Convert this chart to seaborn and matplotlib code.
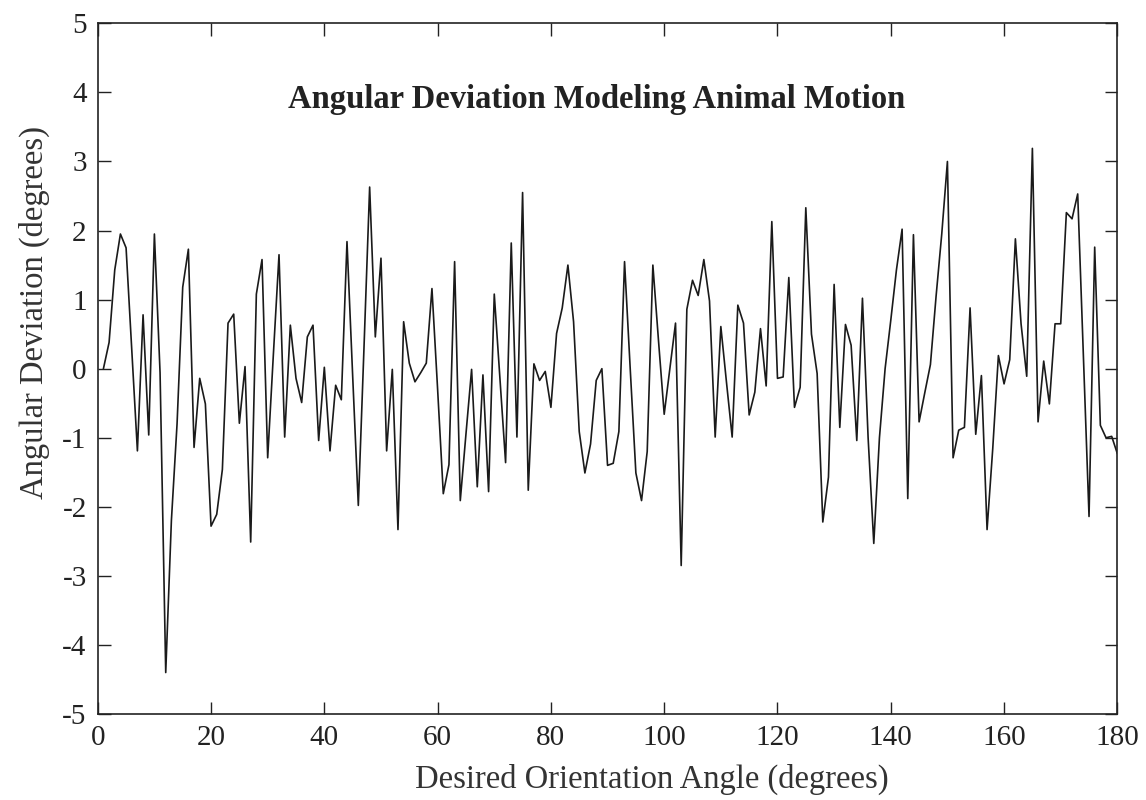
import numpy as np
import pandas as pd
import matplotlib
matplotlib.use("Agg")
import matplotlib.pyplot as plt
import seaborn as sns

# Desired orientation angle (degrees)
angle = list(range(1, 181))

# Angular deviation (degrees)
deviation = [
    0.00, 0.38, 1.43, 1.95, 1.75, 0.28, -1.19, 0.78, -0.96, 1.95,
    -0.06, -4.40, -2.20, -0.80, 1.18, 1.73, -1.14, -0.14, -0.51, -2.28,
    -2.11, -1.46, 0.66, 0.79, -0.79, 0.03, -2.51, 1.08, 1.58, -1.29,
    0.20, 1.65, -0.99, 0.63, -0.14, -0.49, 0.46, 0.63, -1.04, 0.02,
    -1.19, -0.24, -0.45, 1.84, -0.10, -1.98, 0.30, 2.63, 0.46, 1.60,
    -1.19, -0.01, -2.33, 0.68, 0.08, -0.19, -0.06, 0.08, 1.16, -0.30,
    -1.81, -1.39, 1.55, -1.91, -0.95, -0.01, -1.71, -0.09, -1.78, 1.08,
    -0.15, -1.36, 1.82, -0.99, 2.55, -1.76, 0.07, -0.17, -0.04, -0.56,
    0.51, 0.88, 1.50, 0.68, -0.91, -1.51, -1.09, -0.17, 0.00, -1.40,
    -1.37, -0.91, 1.55, 0.00, -1.51, -1.91, -1.20, 1.50, 0.40, -0.66,
    0.00, 0.66, -2.85, 0.86, 1.28, 1.06, 1.58, 0.98, -0.99, 0.61,
    -0.20, -0.99, 0.92, 0.66, -0.67, -0.34, 0.58, -0.25, 2.13, -0.14,
    -0.12, 1.32, -0.56, -0.27, 2.33, 0.50, -0.07, -2.22, -1.57, 1.22,
    -0.85, 0.64, 0.34, -1.04, 1.02, -1.00, -2.53, -1.00, 0.00, 0.70,
    1.43, 2.02, -1.88, 1.94, -0.77, -0.35, 0.06, 1.05, 1.95, 3.00,
    -1.29, -0.89, -0.85, 0.88, -0.95, -0.10, -2.33, -1.16, 0.19, -0.22,
    0.13, 1.88, 0.65, -0.11, 3.19, -0.77, 0.11, -0.51, 0.65, 0.65,
    2.26, 2.17, 2.53, 0.20, -2.14, 1.76, -0.82, -1.00, -0.98, -1.23,
]

x_ticks = [0, 20, 40, 60, 80, 100, 120, 140, 160, 180]
y_ticks = [-5, -4, -3, -2, -1, 0, 1, 2, 3, 4, 5]

title_text = "Angular Deviation Modeling Animal Motion"
x_label = "Desired Orientation Angle (degrees)"
y_label = "Angular Deviation (degrees)"

df = pd.DataFrame({"angle": angle, "deviation": deviation})

sns.set_style("ticks")
plt.rcParams["font.family"] = ["Liberation Serif", "DejaVu Serif"]

fig = plt.figure(figsize=(11.46, 8.0), dpi=100)
ax = fig.add_axes([0.0853, 0.1075, 0.8897, 0.8633])

sns.lineplot(data=df, x="angle", y="deviation", ax=ax, color="#1a1a1a",
             linewidth=1.2, estimator=None, sort=False)

ax.set_xlim(0, 180)
ax.set_ylim(-5, 5)
ax.set_xticks(x_ticks)
ax.set_yticks(y_ticks)
ax.set_xticklabels([str(t) for t in x_ticks])
ax.set_yticklabels([str(t) for t in y_ticks])

for sp in ax.spines.values():
    sp.set_visible(True)
    sp.set_linewidth(1.2)
    sp.set_color("#222222")

ax.tick_params(axis="both", direction="in", length=9, width=1.0,
               labelsize=21, colors="#222222", top=True, right=True)
ax.tick_params(axis="x", pad=8)
ax.tick_params(axis="y", pad=8)

ax.set_xlabel(x_label, fontsize=23.5, color="#333333", labelpad=9)
ax.set_ylabel(y_label, fontsize=23.5, color="#333333", labelpad=9)
ax.xaxis.label.set_x(0.543)
ax.yaxis.label.set_y(0.582)

ax.text(88, 3.77, title_text, ha="center", va="baseline", fontsize=23.5,
        fontweight="bold", color="#222222")

ax.grid(False)
ax.set_facecolor("white")
fig.patch.set_facecolor("white")

fig.savefig("out.png", dpi=100, facecolor="white")
